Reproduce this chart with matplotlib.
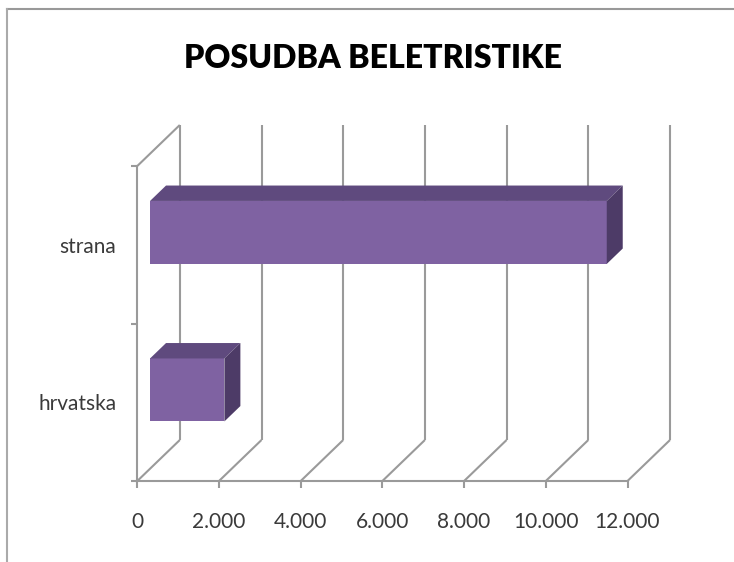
import matplotlib
matplotlib.use("Agg")
import matplotlib.pyplot as plt

# ---- data ----
categories = ["hrvatska", "strana"]
values = [1820, 11180]
xticks = [0, 2000, 4000, 6000, 8000, 10000, 12000]
xtick_labels = ["0", "2.000", "4.000", "6.000", "8.000", "10.000", "12.000"]
title = "POSUDBA BELETRISTIKE"

# ---- style ----
W, H, DPI = 734, 562, 100
FONT = "Lato"
GRID = "#9a9a9a"
FRONT = "#7f62a2"
TOP = "#5f4a7e"
SIDE = "#4d3b67"

fig = plt.figure(figsize=(W / DPI, H / DPI), dpi=DPI)
fig.patch.set_facecolor("white")

# front plane of the 3D box in pixels
px_left, px_right, px_bottom, px_top = 137.3, 627.5, 481.0, 166.0
ax = fig.add_axes([px_left / W, 1 - px_bottom / H,
                   (px_right - px_left) / W, (px_bottom - px_top) / H])
ax.set_xlim(0, 12000)
ax.set_ylim(-0.5, 1.5)
ax.patch.set_alpha(0)

# depth offsets in data units
DX = 2000 * 42.5 / 81.7
DY = 41.0 / 157.5

kw = dict(color=GRID, lw=1.5, clip_on=False, zorder=1, solid_capstyle="butt")
# back wall verticals and floor diagonals
for xv in xticks:
    ax.plot([xv + DX, xv + DX], [-0.5 + DY, 1.5 + DY], **kw)
    ax.plot([xv, xv + DX], [-0.5, -0.5 + DY], **kw)
# left wall top diagonal
ax.plot([0, DX], [1.5, 1.5 + DY], **kw)

# spines
for s in ["top", "right"]:
    ax.spines[s].set_visible(False)
for s in ["left", "bottom"]:
    ax.spines[s].set_color(GRID)
    ax.spines[s].set_linewidth(1.5)

ax.set_xticks(xticks)
ax.set_xticklabels(xtick_labels, fontname=FONT, fontsize=15, color="#3a3a3a")
ax.tick_params(axis="x", direction="out", length=5, width=1.5, color=GRID, pad=17)
ax.set_yticks(range(len(categories)))
ax.set_yticklabels(categories, fontname=FONT, fontsize=15, color="#3a3a3a")
ax.set_yticks([-0.5, 0.5, 1.5], minor=True)
ax.tick_params(axis="y", which="major", length=0, pad=15)
ax.tick_params(axis="y", which="minor", direction="out", length=4, width=1.5, color=GRID)

# 3D bars
f0, f1, bh = 0.30, 0.676, 0.40
d = f1 - f0
for i, v in enumerate(values):
    x0 = f0 * DX
    y0 = i - bh / 2 + f0 * DY
    ax.fill([x0, x0 + v, x0 + v, x0], [y0, y0, y0 + bh, y0 + bh],
            color=FRONT, lw=0, zorder=3, clip_on=False)
    ax.fill([x0, x0 + v, x0 + v + d * DX, x0 + d * DX],
            [y0 + bh, y0 + bh, y0 + bh + d * DY, y0 + bh + d * DY],
            color=TOP, lw=0, zorder=3, clip_on=False)
    ax.fill([x0 + v, x0 + v + d * DX, x0 + v + d * DX, x0 + v],
            [y0, y0 + d * DY, y0 + bh + d * DY, y0 + bh],
            color=SIDE, lw=0, zorder=3, clip_on=False)

# title
fig.text(373 / W, 1 - 59 / H, title, fontname=FONT, fontweight="heavy",
         fontsize=23, ha="center", va="center", color="black")

# outer frame (top and left edges)
fig.add_artist(plt.Line2D([7 / W, 1], [1 - 9 / H, 1 - 9 / H],
                          transform=fig.transFigure, color="#999999", lw=1.5))
fig.add_artist(plt.Line2D([7 / W, 7 / W], [0, 1 - 9 / H],
                          transform=fig.transFigure, color="#aaaaaa", lw=1.5))

fig.savefig("out.png", dpi=DPI)
